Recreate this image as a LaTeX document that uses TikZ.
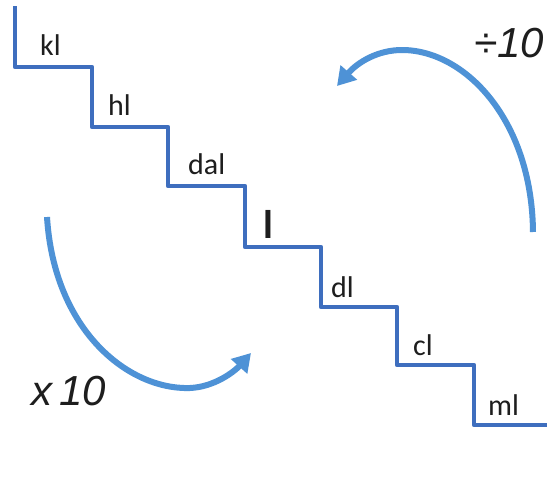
\documentclass[tikz,border=0pt]{standalone}
\usepackage{fontspec}
\setmainfont{Carlito}
\newfontfamily\opfont{Liberation Sans}
\usetikzlibrary{arrows.meta}
\definecolor{stairblue}{RGB}{62,110,190}
\definecolor{arrowblue}{RGB}{78,146,214}
\definecolor{txt}{RGB}{30,30,30}
\begin{document}
\begin{tikzpicture}[x=1pt,y=-1pt,
  stair/.style={draw=stairblue,line width=4.5pt,line join=round},
  curvearrow/.style={draw=arrowblue,line width=6pt,-{Triangle[width=21pt,length=18pt]}},
  unitlabel/.style={anchor=base west,inner sep=0pt,text=txt,font=\fontsize{30}{30}\selectfont},
  oplabel/.style={inner sep=0pt,text=txt,font=\opfont\itshape\fontsize{42}{42}\selectfont}]
\useasboundingbox (0,0) rectangle (547,485);
\fill[white] (0,0) rectangle (547,485);
% staircase
\draw[stair] (15,6) -- (15,67) -- (92,67) -- (92,127) -- (168,127) -- (168,186)
  -- (245,186) -- (245,247) -- (321,247) -- (321,307) -- (397,307) -- (397,365)
  -- (474,365) -- (474,425) -- (550,425);
% unit labels
\node[unitlabel] (kl) at (40,55) {kl};
\node[unitlabel] (hl) at (108,115) {hl};
\node[unitlabel] (dal) at (188,174) {dal};
\node[unitlabel,font=\bfseries\fontsize{40}{40}\selectfont] (l) at (263,238) {l};
\node[unitlabel] (dl) at (331,297) {dl};
\node[unitlabel] (cl) at (413,355) {cl};
\node[unitlabel] (ml) at (488,415) {ml};
% curved arrows
\draw[curvearrow] (533,232) .. controls (532,120) and (465,50) .. (402,50)
  .. controls (378,50) and (358,62) .. (337,86);
\draw[curvearrow] (47,217) .. controls (54,330) and (128,390) .. (190,388)
  .. controls (214,387) and (234,372) .. (251,353);
% operation labels
\node[oplabel,anchor=base east] (div) at (544,57) {÷10};
\node[oplabel,anchor=base west] (mul) at (31,405) {x\,10};
\end{tikzpicture}
\end{document}
